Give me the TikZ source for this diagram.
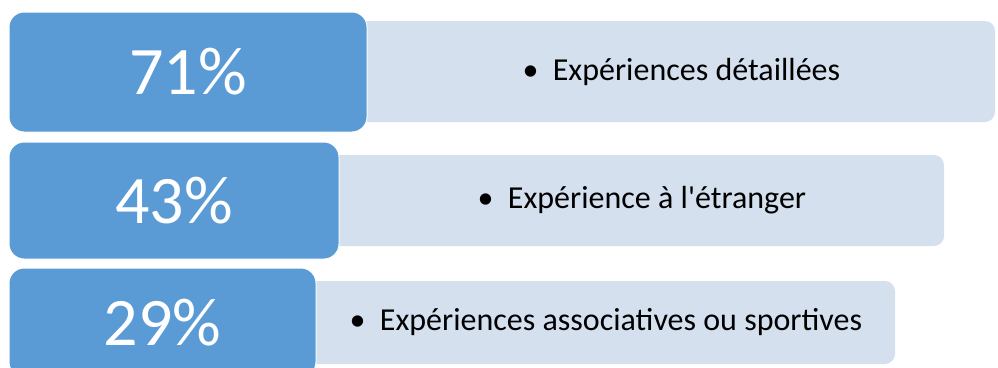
\documentclass[tikz,border=0pt]{standalone}
\usepackage{fontspec}
\setmainfont{Carlito}
\usetikzlibrary{calc}
\definecolor{boxblue}{HTML}{5B9BD5}
\definecolor{barblue}{HTML}{D5E0EF}
\begin{document}
\begin{tikzpicture}[x=1pt,y=-1pt,
	pct/.style={rectangle,rounded corners=15pt,fill=boxblue,draw=white,line width=1pt,
	inner sep=0pt,text=white,font=\fontsize{68}{70}\selectfont},
	bar/.style={rectangle,rounded corners=10pt,fill=barblue,inner sep=0pt},
	lbl/.style={inner sep=0pt,font=\fontsize{32}{35}\selectfont}]
\useasboundingbox (0,0) rectangle (998,367);
\node[bar,minimum width=695pt,minimum height=101pt] (b1) at (647.5,71.5) {};
\node[bar,minimum width=664pt,minimum height=91pt] (b2) at (612,200.5) {};
\node[bar,minimum width=635pt,minimum height=83pt] (b3) at (577.5,322.5) {};
\node[pct,minimum width=358pt,minimum height=120pt] (p1) at (188,72) {71\%};
\node[pct,minimum width=330pt,minimum height=117pt] (p2) at (174,200.5) {43\%};
\node[pct,minimum width=307pt,minimum height=109pt] (p3) at (162.5,322.5) {29\%};
\node[lbl] (l1) at ($(p1.east)!0.5!(b1.east)$) {\textbullet\hspace{0.45em}Expériences détaillées};
\node[lbl] (l2) at ($(p2.east)!0.5!(b2.east)$) {\textbullet\hspace{0.45em}Expérience à l\textquotesingle étranger};
\node[lbl] (l3) at ($(p3.east)!0.5!(b3.east)$) {\textbullet\hspace{0.45em}Expériences associatives ou sportives};
\end{tikzpicture}
\end{document}
